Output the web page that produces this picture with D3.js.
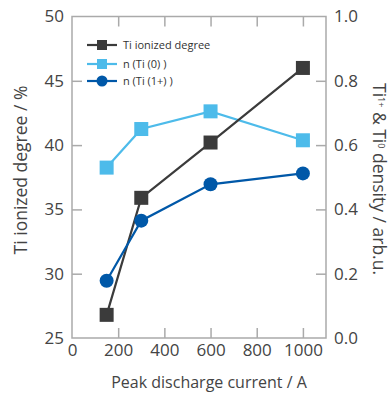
<!DOCTYPE html>
<html>
<head>
<meta charset="utf-8">
<script src="https://cdn.jsdelivr.net/npm/d3@7"></script>
<style>
  body { margin: 0; background: #fff; }
  svg text { font-family: "Open Sans", "Noto Sans", sans-serif; }
</style>
</head>
<body>
<div id="plotContainer"></div>
<script>
// peak discharge current (A)
const current = [150, 300, 600, 1000];
// left axis: Ti ionized degree (%)
const ionizedDegree = [26.8, 35.9, 40.2, 46.0];
// right axis: densities (arb.u.)
const nTi0 = [0.53, 0.65, 0.705, 0.615];
const nTi1 = [0.178, 0.365, 0.478, 0.512];

const xTicks = [0, 200, 400, 600, 800, 1000];
const yLeftTicks = [25, 30, 35, 40, 45, 50];
const yRightTicks = [0, 0.2, 0.4, 0.6, 0.8, 1.0];

const svgWidth = 390, svgHeight = 394;
const margin = {top: 16.5, right: 64, bottom: 56, left: 72};
const width = svgWidth - margin.left - margin.right;
const height = svgHeight - margin.top - margin.bottom;

const axisGray = "#aaaaaa", textGray = "#444444";
const cDark = "#3b3b3b", cLight = "#4dbbea", cBlue = "#0058a8";

const x = d3.scaleLinear().domain([0, 1100]).range([0, width]);
const yL = d3.scaleLinear().domain([25, 50]).range([height, 0]);
const yR = d3.scaleLinear().domain([0, 1]).range([height, 0]);

const svg = d3.select("#plotContainer").append("svg")
  .attr("width", svgWidth)
  .attr("height", svgHeight);

const main = svg.append("g")
  .attr("transform", "translate(" + margin.left + "," + margin.top + ")");

// frame
main.append("rect")
  .attr("width", width).attr("height", height)
  .attr("fill", "none").attr("stroke", axisGray).attr("stroke-width", 1.5);

function styleAxis(g) {
  g.select(".domain").remove();
  g.selectAll(".tick line").attr("stroke", axisGray).attr("stroke-width", 1.5);
  g.selectAll(".tick text").attr("fill", textGray).style("font-size", "17px");
}

// bottom axis, ticks pointing inward
main.append("g")
  .attr("transform", "translate(0," + height + ")")
  .call(d3.axisBottom(x).tickValues(xTicks).tickSizeInner(-10).tickSizeOuter(0).tickPadding(6).tickFormat(d3.format("d")))
  .call(styleAxis)
  .call(g => g.selectAll(".tick line").filter(d => d === 0).remove());

// top axis, ticks only
main.append("g")
  .call(d3.axisTop(x).tickValues(xTicks.filter(d => d > 0)).tickSizeInner(-10).tickSizeOuter(0).tickFormat(""))
  .call(styleAxis);

// left axis
main.append("g")
  .call(d3.axisLeft(yL).tickValues(yLeftTicks).tickSizeInner(-10).tickSizeOuter(0).tickPadding(8))
  .call(styleAxis)
  .call(g => g.selectAll(".tick line").filter(d => d === 25 || d === 50).remove());

// right axis
main.append("g")
  .attr("transform", "translate(" + width + ",0)")
  .call(d3.axisRight(yR).tickValues(yRightTicks).tickSizeInner(-10).tickSizeOuter(0).tickPadding(8).tickFormat(d3.format(".1f")))
  .call(styleAxis)
  .call(g => g.selectAll(".tick line").filter(d => d === 0 || d === 1).remove());

// axis labels
main.append("text")
  .attr("transform", "translate(" + (width / 2 + 10) + "," + (height + 50) + ")")
  .attr("text-anchor", "middle")
  .attr("fill", textGray)
  .style("font-size", "16px")
  .text("Peak discharge current / A");

main.append("text")
  .attr("transform", "translate(" + (-45) + "," + (170 - margin.top) + ") rotate(-90)")
  .attr("text-anchor", "middle")
  .attr("fill", textGray)
  .style("font-size", "17.5px")
  .text("Ti ionized degree / %");

const rLabel = main.append("text")
  .attr("transform", "translate(" + (width + 46.5) + "," + (179 - margin.top) + ") rotate(90)")
  .attr("text-anchor", "middle")
  .attr("fill", textGray)
  .style("font-size", "17.5px");
rLabel.append("tspan").text("Ti");
rLabel.append("tspan").attr("dy", -5.5).style("font-size", "9px").text("1+");
rLabel.append("tspan").attr("dy", 5.5).text(" & Ti");
rLabel.append("tspan").attr("dy", -5.5).style("font-size", "9px").text("0");
rLabel.append("tspan").attr("dy", 5.5).text(" density / arb.u.");

// series
const series = [
  {name: "Ti ionized degree", values: ionizedDegree, y: yL, color: cDark, shape: "square"},
  {name: "n (Ti (0) )", values: nTi0, y: yR, color: cLight, shape: "square"},
  {name: "n (Ti (1+) )", values: nTi1, y: yR, color: cBlue, shape: "circle"}
];

const drawOrder = [series[1], series[0], series[2]];
drawOrder.forEach(s => {
  const pts = current.map((c, i) => [c, s.values[i]]);
  main.append("path")
    .datum(pts)
    .attr("fill", "none")
    .attr("stroke", s.color)
    .attr("stroke-width", 2.2)
    .attr("d", d3.line().x(d => x(d[0])).y(d => s.y(d[1])));
  const g = main.append("g");
  if (s.shape === "square") {
    g.selectAll("rect").data(pts).enter().append("rect")
      .attr("x", d => x(d[0]) - 7).attr("y", d => s.y(d[1]) - 7)
      .attr("width", 14).attr("height", 14)
      .attr("fill", s.color);
  } else {
    g.selectAll("circle").data(pts).enter().append("circle")
      .attr("cx", d => x(d[0])).attr("cy", d => s.y(d[1]))
      .attr("r", 7).attr("fill", s.color);
  }
});

// legend
const legend = main.append("g").attr("transform", "translate(15,28.5)");
series.forEach((s, i) => {
  const row = legend.append("g").attr("transform", "translate(0," + [0, 19, 36][i] + ")");
  row.append("line").attr("x1", 0).attr("x2", 30)
    .attr("stroke", s.color).attr("stroke-width", 2.2);
  if (s.shape === "square") {
    row.append("rect").attr("x", 10).attr("y", -5).attr("width", 10).attr("height", 10).attr("fill", s.color);
  } else {
    row.append("circle").attr("cx", 15).attr("r", 5.5).attr("fill", s.color);
  }
  row.append("text").attr("x", 36).attr("dy", "0.35em")
    .attr("fill", "#333").style("font-size", "11px").text(s.name);
});
</script>
</body>
</html>
